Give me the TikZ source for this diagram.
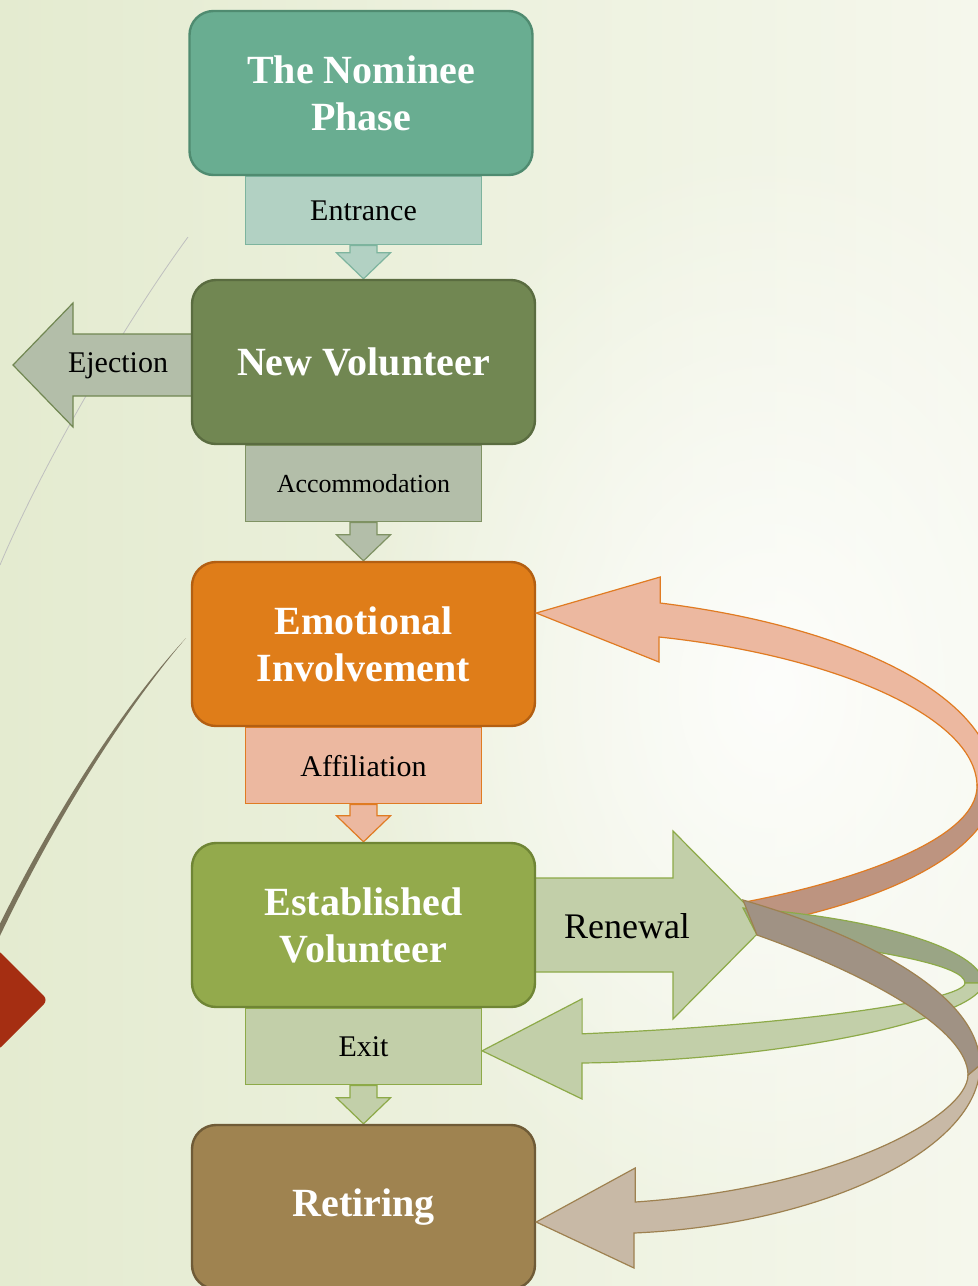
\documentclass[tikz,border=0pt]{standalone}
\usepackage{fontspec}
\setmainfont{Liberation Serif}
\usetikzlibrary{positioning,calc,fadings}

\definecolor{bgleft}{HTML}{E4EBD0}
\definecolor{bgright}{HTML}{F5F7EC}
\definecolor{nomineefill}{HTML}{69AD91}
\definecolor{nomineeline}{HTML}{4F8B70}
\definecolor{entrancefill}{HTML}{B2D1C3}
\definecolor{entranceline}{HTML}{7DB49E}
\definecolor{newfill}{HTML}{718752}
\definecolor{newline}{HTML}{5A6C40}
\definecolor{accomfill}{HTML}{B3BEA9}
\definecolor{accomline}{HTML}{7F9263}
\definecolor{emofill}{HTML}{DF7D19}
\definecolor{emoline}{HTML}{B35F12}
\definecolor{affilfill}{HTML}{ECB8A0}
\definecolor{affilline}{HTML}{E07B22}
\definecolor{estfill}{HTML}{93AA4C}
\definecolor{estline}{HTML}{6F8535}
\definecolor{exitfill}{HTML}{C2CFA9}
\definecolor{exitline}{HTML}{8DAA48}
\definecolor{retirefill}{HTML}{9F8350}
\definecolor{retireline}{HTML}{6F5B37}
\definecolor{orangeback}{HTML}{BD9480}
\definecolor{greenback}{HTML}{9AA585}
\definecolor{brownfront}{HTML}{C8B9A6}
\definecolor{brownback}{HTML}{A09284}
\definecolor{brownline}{HTML}{9E8150}
\definecolor{slideline}{HTML}{7A735C}
\definecolor{slidered}{HTML}{A52E12}

\tikzfading[name=glow,inner color=transparent!0,outer color=transparent!100]

\pgfdeclarelayer{bg}
\pgfdeclarelayer{links}
\pgfsetlayers{bg,links,main}

\begin{document}
\begin{tikzpicture}[x=0.5pt,y=-0.5pt]
        \useasboundingbox (0,0) rectangle (978,1286);
        \clip (0,0) rectangle (978,1286);
        \begin{pgfonlayer}{bg}
            \shade[left color=bgleft,right color=bgright] (0,0) rectangle (978,1286);
            \fill[white,opacity=0.85,path fading=glow] (770,690) ellipse (420 and 560);
            \draw[black!25,line width=0.4pt] (188,237) .. controls (120,330) and (40,470) .. (0,565);
            \fill[slideline] (186,638) .. controls (120,715) and (50,830) .. (-2,940)
                -- (-7,938) .. controls (46,828) and (117,713) .. (186,638);
            \fill[slidered,rounded corners=3pt] (-3,949) -- (48,1000) -- (-3,1051) -- (-54,1000) -- cycle;
        \end{pgfonlayer}
        \begin{scope}[every node/.style={rectangle,rounded corners=12pt,draw,line width=1.2pt,minimum width=171.5pt,minimum height=82pt,align=center,text=white,font=\fontsize{20}{23.5}\selectfont\bfseries}]
            \node (nominee) [fill=nomineefill,draw=nomineeline] at (361,93) {The Nominee\\Phase};
            \node (newvol) [fill=newfill,draw=newline] at (363.5,362) {New Volunteer};
            \node (emotional) [fill=emofill,draw=emoline] at (363.5,644) {Emotional\\Involvement};
            \node (established) [fill=estfill,draw=estline] at (363.5,925) {Established\\Volunteer};
            \node (retiring) [fill=retirefill,draw=retireline] at (363.5,1207) {Retiring};
        \end{scope}
        \begin{pgfonlayer}{links}
            \begin{scope}[every node/.style={rectangle,draw,line width=0.6pt,minimum width=118pt,minimum height=38pt,font=\fontsize{15}{18}\selectfont}]
                \node (entrance) [fill=entrancefill,draw=entranceline,minimum height=34pt,below=0pt of nominee,xshift=1.25pt] {Entrance};
                \node (accommodation) [fill=accomfill,draw=accomline,below=0pt of newvol,font=\fontsize{13}{16}\selectfont] {Accommodation};
                \node (affiliation) [fill=affilfill,draw=affilline,below=0pt of emotional] {Affiliation};
                \node (exit) [fill=exitfill,draw=exitline,below=0pt of established] {Exit};
            \end{scope}
            \foreach \a/\b/\c/\d in {entrance/newvol/entrancefill/entranceline,
                accommodation/emotional/accomfill/accomline,
                affiliation/established/affilfill/affilline,
                exit/retiring/exitfill/exitline}
                \draw[fill=\c,draw=\d,line width=0.6pt] ($(\b.north|-\a.south)+(-13.5,0)$) -- ($(\b.north)+(-13.5,-26)$)
                    -- ($(\b.north)+(-27,-26)$) -- (\b.north) -- ($(\b.north)+(27,-26)$)
                    -- ($(\b.north)+(13.5,-26)$) -- ($(\b.north|-\a.south)+(13.5,0)$) -- cycle;
            % side arrows
            \coordinate (ejecttip) at (13,365);
            \coordinate (renewtip) at (766,925);
            \draw[fill=accomfill,draw=newfill,line width=0.6pt] ($(newvol.west|-ejecttip)+(8,-31)$) -- ($(ejecttip)+(60,-31)$)
                -- ($(ejecttip)+(60,-62)$) -- (ejecttip) -- ($(ejecttip)+(60,62)$)
                -- ($(ejecttip)+(60,31)$) -- ($(newvol.west|-ejecttip)+(8,31)$);
            \draw[fill=exitfill,draw=exitline,line width=0.6pt] ($(established.east|-renewtip)+(-8,-47)$) -- ($(renewtip)+(-93,-47)$)
                -- ($(renewtip)+(-93,-94)$) -- (renewtip) -- ($(renewtip)+(-93,94)$)
                -- ($(renewtip)+(-93,47)$) -- ($(established.east|-renewtip)+(-8,47)$);
            \node (ejection) at (118,366) {\fontsize{15}{18}\selectfont Ejection};
            \node (renewal) at (627,926) {\fontsize{18}{21}\selectfont Renewal};
        \end{pgfonlayer}
        % loops back from renewal
        \coordinate (emotip) at ($(emotional.east)+(0,-31)$);
        \coordinate (exittip) at ($(exit.east)+(0,4)$);
        \coordinate (retiretip) at ($(retiring.east)+(0,15)$);
        \draw[fill=affilfill,draw=affilline,line width=0.6pt] (emotip) -- ++(124,-36) -- ++(0,26)
            .. controls (860,628) and (995,700) .. (995,785) -- (977,785)
            .. controls (975,715) and (830,655) .. (659,637) -- ++(0,25) -- cycle;
        \draw[fill=orangeback,draw=affilline,line width=0.6pt] (995,785) .. controls (995,840) and (915,895) .. (760,925)
            -- (745,902) .. controls (850,882) and (979,840) .. (977,785) -- cycle;
        \draw[fill=greenback,draw=exitline,line width=0.6pt] (743,908) .. controls (900,920) and (983,955) .. (983,983)
            -- (965,983) .. controls (965,965) and (880,950) .. (757,935) -- cycle;
        \draw[fill=exitfill,draw=exitline,line width=0.6pt] (exittip) -- ++(100,-52) -- ++(0,35)
            .. controls (800,1025) and (965,1000) .. (965,983) -- (983,983)
            .. controls (983,1015) and (800,1060) .. (582,1063) -- ++(0,36) -- cycle;
        \draw[fill=brownfront,draw=brownline,line width=0.6pt] (retiretip) -- ++(99,-54) -- ++(0,34)
            .. controls (840,1188) and (968,1115) .. (968,1075) -- (980,1065)
            .. controls (980,1150) and (820,1225) .. (634,1233) -- ++(0,35) -- cycle;
        \draw[fill=brownback,draw=brownline,line width=0.6pt] (743,900) .. controls (880,940) and (980,1000) .. (980,1065)
            -- (968,1075) .. controls (968,1030) and (870,975) .. (757,935) -- cycle;
    \end{tikzpicture}
\end{document}
